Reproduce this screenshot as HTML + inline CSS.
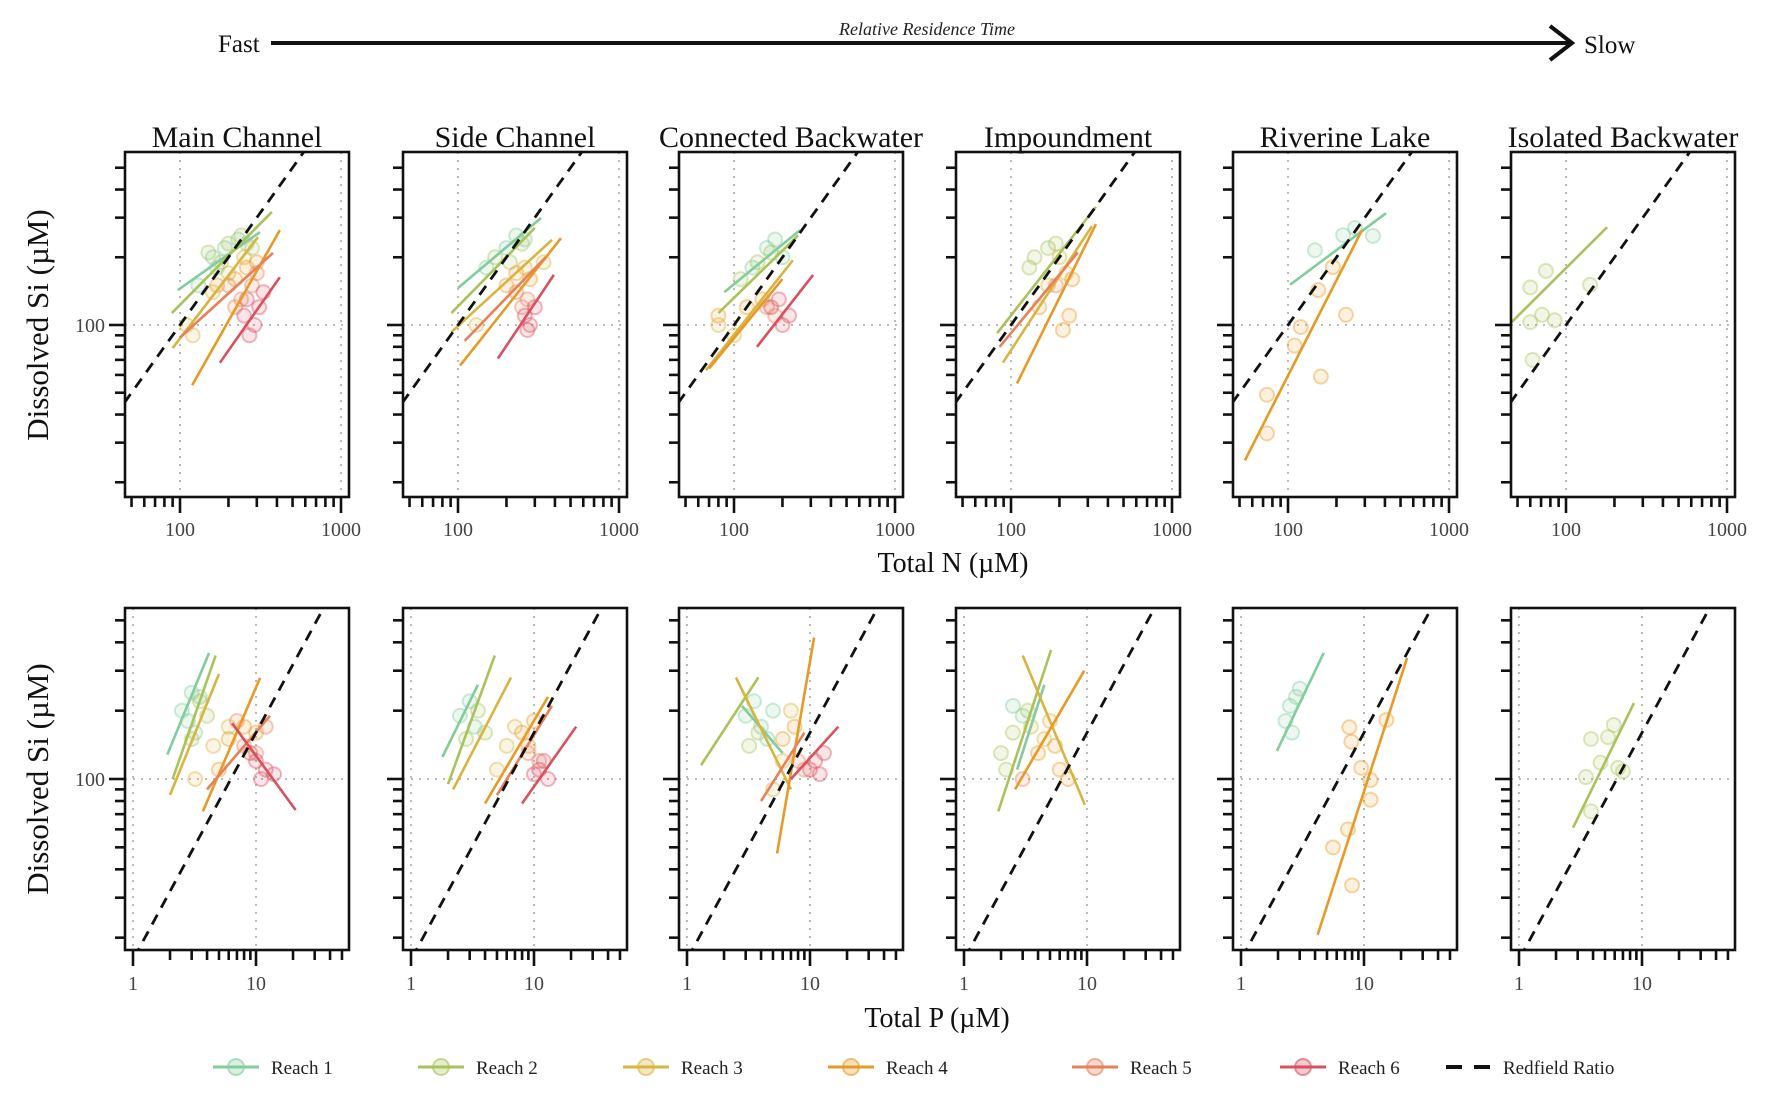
<!DOCTYPE html>
<html><head><meta charset="utf-8"><style>
html,body{margin:0;padding:0;background:#fff;}
svg{display:block;font-family:"Liberation Serif",serif;}
</style></head><body>
<svg id="chart" width="1772" height="1097" viewBox="0 0 1772 1097" xmlns="http://www.w3.org/2000/svg">
  <g>
    <text x="218" y="52" font-size="25" fill="#111">Fast</text>
    <line x1="271" y1="43" x2="1570" y2="43" stroke="#111" stroke-width="4"/>
    <polyline points="1550,26 1572,43 1550,60" fill="none" stroke="#111" stroke-width="4"/>
    <text x="927" y="35" font-size="18" font-style="italic" text-anchor="middle" fill="#222">Relative Residence Time</text>
    <text x="1584" y="53" font-size="25" fill="#111">Slow</text>
  </g>
  <g id="panels"></g>
  <text x="953" y="572" font-size="28" text-anchor="middle" fill="#111">Total N (µM)</text>
  <text x="937" y="1027" font-size="28" text-anchor="middle" fill="#111">Total P (µM)</text>
  <text transform="translate(48,325) rotate(-90)" font-size="31" text-anchor="middle" fill="#111">Dissolved Si (µM)</text>
  <text transform="translate(48,779) rotate(-90)" font-size="31" text-anchor="middle" fill="#111">Dissolved Si (µM)</text>
  <g id="legend"></g>
</svg>
<script>
const panelNames = ["Main Channel","Side Channel","Connected Backwater","Impoundment","Riverine Lake","Isolated Backwater"];
const reachNames = ["Reach 1","Reach 2","Reach 3","Reach 4","Reach 5","Reach 6"];
// [panel, reach, x1, si1, x2, si2]
const nLines = [
 [0,0,97,143,314,259],[0,1,89,113,372,318],[0,2,90,79,305,246],[0,3,119,54,417,264],[0,4,100,88,378,209],[0,5,177,68,417,163],
 [1,0,100,146,328,299],[1,1,91,113,300,270],[1,2,91,93,384,239],[1,3,103,66,436,243],[1,4,110,85,350,200],[1,5,177,71,394,167],
 [2,0,87,140,257,264],[2,1,80,113,250,250],[2,2,67,63,232,194],[2,3,70,64,200,160],[2,5,139,80,310,167],
 [3,1,82,92,337,335],[3,2,89,68,318,275],[3,3,109,55,337,281],[3,4,85,80,260,210],
 [4,0,103,151,406,314],[4,3,54,25,288,264],
 [5,1,46,103,180,272]
];
// [panel, reach, N, Si]
const nPoints = [
 [0,0,130,150],[0,0,160,200],[0,0,190,220],[0,0,230,240],[0,0,260,230],[0,0,170,180],
 [0,1,150,210],[0,1,200,230],[0,1,240,250],[0,1,180,190],[0,1,280,220],
 [0,2,120,90],[0,2,200,170],[0,2,250,200],[0,2,160,140],[0,2,110,100],
 [0,3,170,150],[0,3,220,160],[0,3,260,180],[0,3,300,190],
 [0,4,200,150],[0,4,240,130],[0,4,280,150],[0,4,220,120],[0,4,300,170],
 [0,5,250,110],[0,5,290,100],[0,5,270,90],[0,5,310,120],[0,5,330,140],[0,5,260,130],
 [1,0,150,180],[1,0,200,220],[1,0,230,250],[1,0,260,240],
 [1,1,170,200],[1,1,210,190],[1,1,250,230],
 [1,2,130,100],[1,2,260,180],[1,2,340,190],
 [1,3,200,150],[1,3,230,170],[1,3,280,160],
 [1,4,230,140],[1,4,270,130],[1,4,250,120],
 [1,5,260,110],[1,5,280,100],[1,5,300,120],[1,5,270,95],
 [2,0,130,180],[2,0,160,220],[2,0,180,240],[2,0,200,200],
 [2,1,110,160],[2,1,140,190],[2,1,170,210],
 [2,2,80,100],[2,2,100,90],
 [2,3,80,110],[2,3,120,120],[2,3,150,130],
 [2,4,160,120],[2,4,180,110],
 [2,5,170,120],[2,5,200,100],[2,5,220,110],[2,5,190,130],
 [3,1,140,200],[3,1,170,220],[3,1,190,230],[3,1,130,180],
 [3,2,200,200],[3,2,220,170],[3,2,170,150],
 [3,3,150,120],[3,3,230,110],[3,3,210,95],[3,3,240,160],
 [3,4,190,150],
 [4,0,147,215],[4,0,220,251],[4,0,261,270],[4,0,337,249],
 [4,3,190,181],[4,3,154,143],[4,3,120,98],[4,3,110,81],[4,3,229,111],[4,3,160,59],[4,3,74,49],[4,3,74,33],
 [5,1,60,147],[5,1,75,174],[5,1,60,103],[5,1,71,111],[5,1,85,105],[5,1,62,70],[5,1,141,151]
];
const pLines = [
 [0,0,1.9,128,4.15,359],[0,1,2.1,100,4.7,350],[0,2,2.0,85,5.0,290],[0,3,3.7,72,10.8,279],[0,4,4,90,13,190],[0,5,6.4,176,21,73],
 [1,0,1.8,125,3.5,260],[1,1,2.0,95,4.8,350],[1,2,2.2,90,6.5,280],[1,3,4,78,13,230],[1,4,5,85,14,210],[1,5,8,78,22,170],
 [2,0,2.8,210,6,130],[2,1,1.3,115,3.8,280],[2,2,2.5,280,7,90],[2,3,5.4,47,10.8,420],[2,4,4,80,9,160],[2,5,7,100,17,170],
 [3,0,2.7,110,4.5,260],[3,1,1.9,72,5.1,370],[3,2,3.0,350,9.6,77],[3,3,2.6,90,9.5,300],
 [4,0,1.96,133,4.7,359],[4,3,4.2,20.6,22.4,341],
 [5,1,2.75,61,8.6,216]
];
const pPoints = [
 [0,0,2.5,200],[0,0,3,240],[0,0,3.5,230],[0,0,2.8,180],[0,0,3.2,160],
 [0,1,3.5,220],[0,1,4,190],[0,1,3,150],
 [0,2,3.2,100],[0,2,4.5,140],[0,2,6,170],
 [0,3,6,150],[0,3,8,170],[0,3,10,160],[0,3,5,110],
 [0,4,8,140],[0,4,10,130],[0,4,12,170],[0,4,7,180],
 [0,5,10,120],[0,5,12,110],[0,5,14,105],[0,5,9,130],[0,5,11,100],
 [1,0,2.5,190],[1,0,3,220],[1,0,3.3,170],
 [1,1,3.5,200],[1,1,4,160],[1,1,2.8,150],
 [1,2,5,110],[1,2,7,170],[1,2,6,140],
 [1,3,8,160],[1,3,10,180],[1,3,9,140],
 [1,4,9,130],[1,4,11,120],
 [1,5,11,110],[1,5,13,100],[1,5,12,120],[1,5,10,105],
 [2,0,3,190],[2,0,3.5,220],[2,0,4,170],[2,0,5,200],[2,0,4.5,150],
 [2,1,3.2,140],[2,1,3.8,160],
 [2,2,5,90],[2,2,6,120],[2,2,7,200],
 [2,3,6,150],[2,3,7.5,170],
 [2,4,8,120],[2,4,9,110],
 [2,5,10,110],[2,5,11,120],[2,5,12,105],[2,5,13,130],
 [3,0,2.5,210],[3,0,3,190],
 [3,1,2,130],[3,1,2.5,160],[3,1,3.3,200],[3,1,2.2,110],
 [3,2,3.5,170],[3,2,4.5,150],[3,2,5,180],
 [3,3,4,130],[3,3,6,110],[3,3,7,100],[3,3,5.5,140],
 [3,4,3,100],
 [4,0,2.3,180],[4,0,2.5,210],[4,0,2.8,230],[4,0,3.0,250],[4,0,2.6,160],
 [4,3,7.6,169],[4,3,7.9,146],[4,3,9.5,112],[4,3,11.3,99],[4,3,11.3,81],[4,3,15.2,182],[4,3,7.4,60],[4,3,5.6,50],[4,3,8.0,34],
 [5,1,3.85,150],[5,1,5.9,173],[5,1,5.3,153],[5,1,4.6,118],[5,1,3.5,102],[5,1,6.4,112],[5,1,7,108],[5,1,3.85,72]
];
const siTicks = [20,30,40,50,60,70,80,90,100,200,300,400,500];
const nTicks = [50,60,70,80,90,100,200,300,400,500,600,700,800,900,1000];
const pTicks = [1,2,3,4,5,6,7,8,9,10,20,30,40,50];
const nTickLabels = [100,1000];
const pTickLabels = [1,10];
const redfieldSiN = 1;
const redfieldSiP = 16;

const colors = ["#82cc9d","#a9c25a","#d8b441","#e89a26","#e5825a","#d9505f"];
const NS = "http://www.w3.org/2000/svg";
const panelLefts = [125,403,679,956,1233,1511];
const PW = 224;
const rows = [
  {top:152,bottom:497,xmin:45,xmax:1120,x100:55,dec:161,y100:325,ydec:225,lines:nLines,pts:nPoints,ticks:nTicks,labels:nTickLabels,ratio:redfieldSiN,labelY:536,grid:[100,1000],name:"nitrogen"},
  {top:608,bottom:950,xmin:0.86,xmax:56,x100:8,dec:123,y100:779,ydec:227,lines:pLines,pts:pPoints,ticks:pTicks,labels:pTickLabels,ratio:redfieldSiP,labelY:990,grid:[1,10],name:"phosphorus"}
];
function el(tag, attrs, parent){const e=document.createElementNS(NS,tag);for(const k in attrs)e.setAttribute(k,attrs[k]);parent.appendChild(e);return e;}
const root=document.getElementById("panels");
rows.forEach((r,ri)=>{
  const ref = ri===0?100:1;
  panelNames.forEach((pn,pi)=>{
    const L=panelLefts[pi];
    const xs=v=>L+r.x100+r.dec*Math.log10(v/ref);
    const ys=v=>r.y100-r.ydec*Math.log10(v/100);
    const g=el("g",{},root);
    
    
    if(ri===0){
      const t=el("text",{x:L+PW/2,y:147,"font-size":30,"text-anchor":"middle",fill:"#111"},g);
      
      
      t.textContent=pn;
    }
    const cid="clip"+ri+"_"+pi;
    const cp=el("clipPath",{id:cid},g);
    el("rect",{x:L,y:r.top,width:PW,height:r.bottom-r.top},cp);
    const plot=el("g",{"clip-path":"url(#"+cid+")"},g);
    
    
    r.grid.forEach(gv=>{
      const gl=el("line",{x1:xs(gv),x2:xs(gv),y1:r.top,y2:r.bottom,stroke:"#bbb","stroke-width":2,"stroke-dasharray":"2 6"},plot);
      
      
    });
    const hg=el("line",{x1:L,x2:L+PW,y1:ys(100),y2:ys(100),stroke:"#bbb","stroke-width":2,"stroke-dasharray":"2 6"},plot);
    
    
    r.pts.filter(p=>p[0]===pi).forEach(p=>{
      const c=el("circle",{cx:xs(p[2]),cy:ys(p[3]),r:7,fill:colors[p[1]],"fill-opacity":0.15,stroke:colors[p[1]],"stroke-opacity":0.4,"stroke-width":2},plot);
      
      
    });
    r.lines.filter(l=>l[0]===pi).forEach(l=>{
      const ln=el("line",{x1:xs(l[2]),y1:ys(l[3]),x2:xs(l[4]),y2:ys(l[5]),stroke:colors[l[1]],"stroke-width":2.6},plot);
      
      
    });
    const rd=el("line",{x1:xs(r.xmin),y1:ys(r.xmin*r.ratio),x2:xs(r.xmax),y2:ys(r.xmax*r.ratio),stroke:"#111","stroke-width":2.8,"stroke-dasharray":"11 8"},plot);
    
    
    const box=el("rect",{x:L,y:r.top,width:PW,height:r.bottom-r.top,fill:"none",stroke:"#111","stroke-width":2.6},g);
    
    
    r.ticks.forEach(tv=>{
      const major=r.labels.includes(tv);
      const tk=el("line",{x1:xs(tv),x2:xs(tv),y1:r.bottom,y2:r.bottom+(major?16:10),stroke:"#111","stroke-width":2.6},g);
      
      
    });
    r.labels.forEach(lv=>{
      const t=el("text",{x:xs(lv),y:r.labelY,"font-size":20,"text-anchor":"middle",fill:"#444"},g);
      
      
      t.textContent=String(lv);
    });
    siTicks.forEach(sv=>{
      const major=sv===100;
      const tk=el("line",{x1:L-(major?16:10),x2:L,y1:ys(sv),y2:ys(sv),stroke:"#111","stroke-width":2.6},g);
      
      
    });
    if(pi===0){
      const t=el("text",{x:L-20,y:ys(100)+7,"font-size":20,"text-anchor":"end",fill:"#444"},g);
      
      
      t.textContent="100";
    }
  });
});
// legend
const lg=document.getElementById("legend");
const legendTextX=[271,476,681,886,1130,1338];
reachNames.forEach((nm,i)=>{
  const g=el("g",{},lg);
  
  
  const lx=legendTextX[i]-58;
  el("line",{x1:lx,x2:lx+46,y1:1067,y2:1067,stroke:colors[i],"stroke-width":3},g);
  el("circle",{cx:lx+23,cy:1067,r:8,fill:colors[i],"fill-opacity":0.3,stroke:colors[i],"stroke-opacity":0.6,"stroke-width":2},g);
  const t=el("text",{x:legendTextX[i],y:1074,"font-size":19,fill:"#222"},g);
  t.textContent=nm;
});
const rg=el("g",{},lg);


el("line",{x1:1446,x2:1490,y1:1067,y2:1067,stroke:"#111","stroke-width":4,"stroke-dasharray":"16 12"},rg);
const rt=el("text",{x:1503,y:1074,"font-size":19,fill:"#222"},rg);
rt.textContent="Redfield Ratio";
</script>
</body></html>
